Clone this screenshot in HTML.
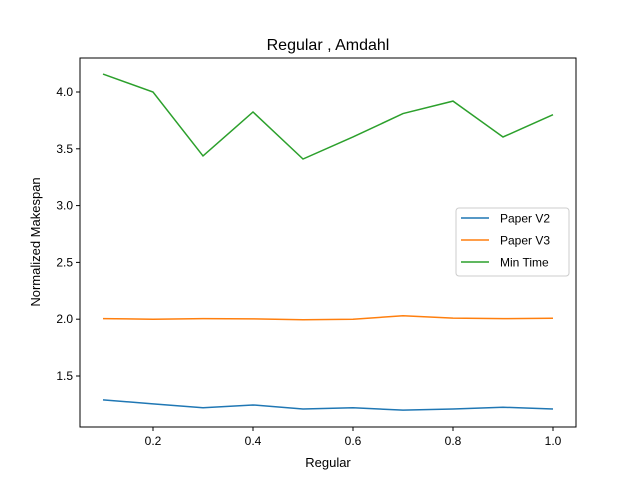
<!DOCTYPE html>
<html><head><meta charset="utf-8"><style>body{margin:0;background:#fff}svg{font-family:"Liberation Sans","DejaVu Sans",sans-serif}</style></head>
<body>
<svg id="c" width="640" height="480"></svg>
<script>
const categories=[0.1,0.2,0.3,0.4,0.5,0.6,0.7,0.8,0.9,1.0];
const paperV2=[1.29,1.255,1.22,1.245,1.21,1.22,1.20,1.21,1.225,1.21];
const paperV3=[2.005,2.0,2.005,2.003,1.995,2.0,2.03,2.01,2.005,2.008];
const minTime=[4.158,4.0,3.437,3.824,3.41,3.604,3.81,3.92,3.604,3.80];
const xTicks=[0.2,0.4,0.6,0.8,1.0];
const yTicks=[1.5,2.0,2.5,3.0,3.5,4.0];
const seriesNames=["Paper V2","Paper V3","Min Time"];
const colors=["#1f77b4","#ff7f0e","#2ca02c"];
const L=80,R=576,T=58,B=427;
const xs=v=>103+(v-0.1)*500;
const ys=v=>376-(v-1.5)*113.6;
const svg=document.getElementById('c');
const NS='http://www.w3.org/2000/svg';
function mk(t,a,p){const e=document.createElementNS(NS,t);for(const k in a)e.setAttribute(k,a[k]);(p||svg).appendChild(e);return e;}
const title=mk('text',{x:328,y:50,'text-anchor':'middle','font-size':16});title.textContent='Regular , Amdahl';

xTicks.forEach(v=>{const x=xs(v);
const l=mk('line',{x1:x,x2:x,y1:B,y2:B+4,stroke:'#000'});
const t=mk('text',{x:x,y:B+18,'text-anchor':'middle','font-size':12});t.textContent=v.toFixed(1);});
yTicks.forEach(v=>{const y=ys(v);
const l=mk('line',{x1:L-4,x2:L,y1:y,y2:y,stroke:'#000'});
const t=mk('text',{x:L-7,y:y+4,'text-anchor':'end','font-size':12});t.textContent=v.toFixed(1);});
const xt=mk('text',{x:328,y:467,'text-anchor':'middle','font-size':13});xt.textContent='Regular';
const yt=mk('text',{x:40,y:242,'text-anchor':'middle','font-size':13,transform:'rotate(-90 40 242)'});yt.textContent='Normalized Makespan';
[paperV2,paperV3,minTime].forEach((d,i)=>{
const p=mk('polyline',{points:d.map((v,j)=>xs(categories[j])+','+ys(v)).join(' '),fill:'none',stroke:colors[i],'stroke-width':1.5});
});
const fr=mk('rect',{x:L,y:T,width:R-L,height:B-T,fill:'none',stroke:'#000','stroke-width':1});
const lg=mk('g',{});
mk('rect',{x:456,y:208,width:113,height:68,rx:3,fill:'#fff',stroke:'#ccc'},lg);
seriesNames.forEach((n,i)=>{const y=218+i*22;
const g=mk('g',{},lg);
mk('line',{x1:461,x2:489,y1:y,y2:y,stroke:colors[i],'stroke-width':1.5},g);
const t=mk('text',{x:500,y:y+4.5,'font-size':12},g);t.textContent=n;});
</script>
</body></html>
